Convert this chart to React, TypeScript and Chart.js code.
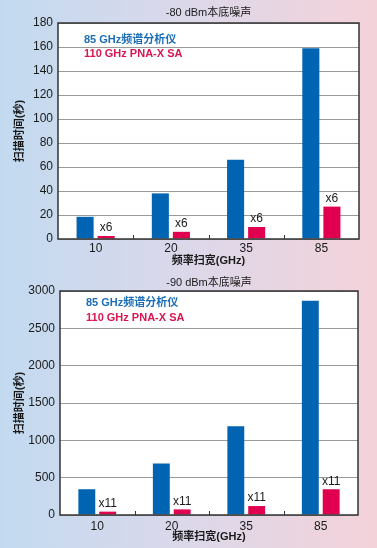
import React, { useEffect, useRef } from "react";
import { Chart, registerables } from "chart.js";

Chart.register(...registerables);

const categories = ["10", "20", "35", "85"];
const seriesNames = ["85 GHz频谱分析仪", "110 GHz PNA-X SA"];

const title80 = "-80 dBm本底噪声";
const blue80 = [18.5, 38, 66, 159];
const pink80 = [2.5, 6, 10, 27];
const ratio80 = ["x6", "x6", "x6", "x6"];
const yTicks80 = { max: 180, step: 20 };

const title90 = "-90 dBm本底噪声";
const blue90 = [345, 690, 1190, 2870];
const pink90 = [45, 75, 120, 345];
const ratio90 = ["x11", "x11", "x11", "x11"];
const yTicks90 = { max: 3000, step: 500 };

const xTitle = "频率扫宽(GHz)";
const yTitle = "扫描时间(秒)";

const FONT = '"Liberation Sans", Arial, "Noto Sans CJK SC", sans-serif';
const BLUE = "#0064b3";
const PINK = "#e0004f";
const BLUE_TEXT = "#1b6db5";
const PINK_TEXT = "#d8164f";

type Geo = {
  left: number;
  right: number;
  top: number;
  bottom: number;
  height: number;
  titleDy: number;
  leg1: number;
  leg2: number;
  xTitleDy: number;
  xLabelPad: number;
};

function makeChart(
  canvas: HTMLCanvasElement,
  title: string,
  blue: number[],
  pink: number[],
  ratios: string[],
  yt: { max: number; step: number },
  g: Geo
) {
  const overlay = {
    id: "overlay",
    beforeDraw(chart: any) {
      const { ctx, chartArea: a } = chart;
      ctx.save();
      ctx.fillStyle = "#ffffff";
      ctx.fillRect(a.left, a.top, a.right - a.left, a.bottom - a.top);
      ctx.restore();
    },
    afterDatasetsDraw(chart: any) {
      const { ctx, chartArea: a } = chart;
      ctx.save();
      // border
      ctx.strokeStyle = "#333333";
      ctx.lineWidth = 1.5;
      ctx.strokeRect(a.left, a.top, a.right - a.left, a.bottom - a.top);
      // inner category ticks
      const xs = chart.scales.x;
      ctx.lineWidth = 1;
      for (let i = 1; i < categories.length; i++) {
        const px = (xs.getPixelForTick(i - 1) + xs.getPixelForTick(i)) / 2;
        ctx.beginPath();
        ctx.moveTo(Math.round(px) + 0.5, a.bottom);
        ctx.lineTo(Math.round(px) + 0.5, a.bottom - 4);
        ctx.stroke();
      }
      // ratio labels
      const meta = chart.getDatasetMeta(1);
      ctx.fillStyle = "#1a1a1a";
      ctx.font = `12px ${FONT}`;
      ctx.textAlign = "center";
      ctx.textBaseline = "bottom";
      meta.data.forEach((el: any, i: number) => {
        ctx.fillText(ratios[i], el.x, el.y - 2);
      });
      // legend
      ctx.textAlign = "left";
      ctx.textBaseline = "middle";
      ctx.font = `bold 11px ${FONT}`;
      ctx.fillStyle = BLUE_TEXT;
      ctx.fillText(seriesNames[0], a.left + 26, a.top + g.leg1);
      ctx.fillStyle = PINK_TEXT;
      ctx.fillText(seriesNames[1], a.left + 26, a.top + g.leg2);
      // title
      ctx.fillStyle = "#1a1a1a";
      ctx.textAlign = "center";
      ctx.font = `11px ${FONT}`;
      ctx.fillText(title, (a.left + a.right) / 2, a.top - g.titleDy);
      // x title
      ctx.font = `bold 11px ${FONT}`;
      ctx.fillText(xTitle, (a.left + a.right) / 2, a.bottom + g.xTitleDy);
      // y title
      ctx.translate(20, (a.top + a.bottom) / 2);
      ctx.rotate(-Math.PI / 2);
      ctx.fillText(yTitle, 0, 0);
      ctx.restore();
    },
  };

  return new Chart(canvas, {
    type: "bar",
    data: {
      labels: categories,
      datasets: [
        {
          label: seriesNames[0],
          data: blue,
          backgroundColor: BLUE,
          categoryPercentage: 0.56,
          barPercentage: 0.81,
        },
        {
          label: seriesNames[1],
          data: pink,
          backgroundColor: PINK,
          categoryPercentage: 0.56,
          barPercentage: 0.81,
        },
      ],
    },
    options: {
      animation: false,
      responsive: false,
      maintainAspectRatio: false,
      layout: { padding: { top: g.top, right: 377 - g.right, left: 0, bottom: 0 } },
      plugins: { legend: { display: false }, title: { display: false }, tooltip: { enabled: false } },
      scales: {
        x: {
          grid: { display: false, drawTicks: false, tickLength: 0 },
          border: { display: false },
          ticks: { color: "#1a1a1a", font: { family: FONT, size: 12 }, padding: g.xLabelPad },
          afterFit(scale: any) {
            scale.height = g.height - g.bottom;
          },
        },
        y: {
          min: 0,
          max: yt.max,
          grid: { color: "#9a9a9a", drawTicks: false, lineWidth: 1 },
          border: { display: false },
          ticks: {
            stepSize: yt.step,
            color: "#1a1a1a",
            font: { family: FONT, size: 12 },
            padding: 5,
            callback: (v: any) => String(v),
          },
          afterFit(scale: any) {
            scale.width = g.left;
          },
        },
      },
    },
    plugins: [overlay],
  } as any);
}

export default function App() {
  const ref1 = useRef<HTMLCanvasElement>(null);
  const ref2 = useRef<HTMLCanvasElement>(null);

  useEffect(() => {
    const c1 = makeChart(ref1.current!, title80, blue80, pink80, ratio80, yTicks80, {
      left: 58,
      right: 359,
      top: 23,
      bottom: 239,
      height: 274,
      titleDy: 10,
      leg1: 17,
      leg2: 31,
      xTitleDy: 22,
      xLabelPad: 2,
    });
    const c2 = makeChart(ref2.current!, title90, blue90, pink90, ratio90, yTicks90, {
      left: 60,
      right: 358,
      top: 17,
      bottom: 241,
      height: 274,
      titleDy: 8,
      leg1: 12,
      leg2: 27,
      xTitleDy: 22,
      xLabelPad: 4,
    });
    return () => {
      c1.destroy();
      c2.destroy();
    };
  }, []);

  return (
    <div
      style={{
        position: "fixed",
        left: 0,
        top: 0,
        width: 377,
        height: 548,
        background: "linear-gradient(to right, #c2daf0 0%, #dcd8ea 50%, #f4d2d9 100%)",
      }}
    >
      <canvas ref={ref1} width={377} height={274} style={{ position: "absolute", left: 0, top: 0, width: 377, height: 274 }} />
      <canvas ref={ref2} width={377} height={274} style={{ position: "absolute", left: 0, top: 274, width: 377, height: 274 }} />
    </div>
  );
}
